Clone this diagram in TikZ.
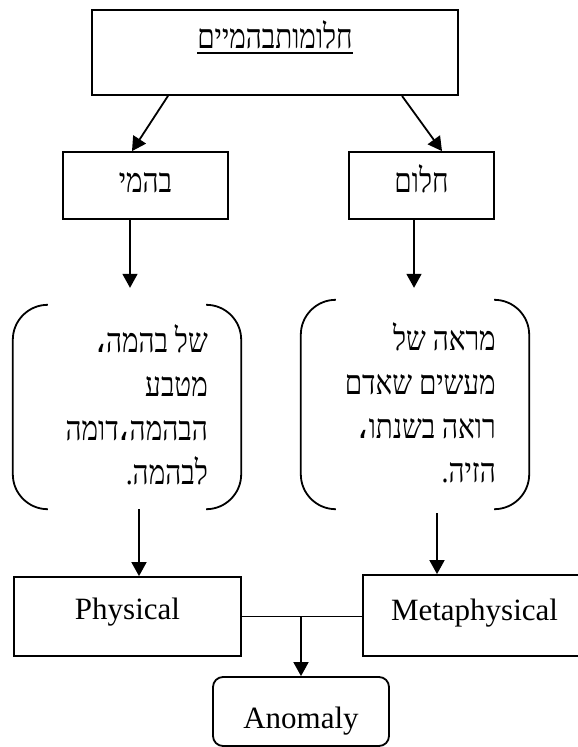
\documentclass[tikz,border=0pt]{standalone}
\usepackage{fontspec}
\setmainfont{Liberation Serif}
\newfontfamily\hebfont[Script=Hebrew,FakeStretch=0.82]{Liberation Serif}
\newfontfamily\arabfont{DejaVu Sans}
\TeXXeTstate=1
\usetikzlibrary{arrows.meta,calc}
\newcommand{\hcomma}{{\arabfont ،}}
\begin{document}
\begin{tikzpicture}[x=1pt,y=-1pt,
  box/.style={draw, line width=1.8pt, inner sep=0pt, font=\fontsize{31}{44}\selectfont},
  heb/.style={font=\fontsize{34}{44}\selectfont\hebfont},
  arr/.style={line width=1.8pt, -{Triangle[width=15pt,length=14pt]}},
  conn/.style={line width=1.8pt},
  brk/.style={draw=none, inner sep=0pt},
  brkline/.style={line width=1.8pt, rounded corners=35pt}]
\useasboundingbox (0,0) rectangle (578,747);

% top box
\node[box, heb, minimum width=366pt, text height=38pt, text depth=47pt] (top) at (275,52.5)
  {\vtop{\hbox{\beginR חלומותבהמיים\endR}\kern4pt\hrule height 1.3pt}};

% second row
\node[box, heb, minimum width=165pt, text height=40pt, text depth=27pt] (bahami) at (145.5,185.5) {\beginR בהמי\endR};
\node[box, heb, minimum width=145pt, text height=40pt, text depth=27pt] (halom) at (421.5,185.5) {\beginR חלום\endR};

% bracket boxes
\node[brk, minimum width=228pt, minimum height=204pt] (bl) at (127,407) {};
\node[brk, minimum width=228pt, minimum height=209pt] (br) at (415,404.5) {};
\draw[brkline] ([xshift=35pt]bl.north west) -- (bl.north west) -- (bl.south west) -- ([xshift=35pt]bl.south west);
\draw[brkline] ([xshift=-35pt]bl.north east) -- (bl.north east) -- (bl.south east) -- ([xshift=-35pt]bl.south east);
\draw[brkline] ([xshift=35pt]br.north west) -- (br.north west) -- (br.south west) -- ([xshift=35pt]br.south west);
\draw[brkline] ([xshift=-35pt]br.north east) -- (br.north east) -- (br.south east) -- ([xshift=-35pt]br.south east);

\node[heb, inner sep=0pt, anchor=base east] (tl) at (208,352)
  {\begin{tabular}[t]{@{}r@{}}\beginR של בהמה\hcomma\endR\\ \beginR מטבע\endR\\ \beginR הבהמה\hcomma דומה\endR\\ \beginR לבהמה.\endR\end{tabular}};
\node[heb, inner sep=0pt, anchor=base east] (tr) at (496,350)
  {\begin{tabular}[t]{@{}r@{}}\beginR מראה של\endR\\ \beginR מעשים שאדם\endR\\ \beginR רואה בשנתו\hcomma\endR\\ \beginR הזיה.\endR\end{tabular}};

% bottom boxes
\node[box, minimum width=227pt, text height=42pt, text depth=37pt] (phys) at (127.5,616.5) {Physical};
\node[box, minimum width=223pt, text height=45pt, text depth=36pt] (meta) at (474.5,615.5) {Metaphysical};
\node[box, rounded corners=10pt, minimum width=176pt, text height=51pt, text depth=18pt] (anom) at (301,711.5) {Anomaly};

% connectors
\draw[arr] ([xshift=-107pt]top.south) -- ([xshift=-13.5pt]bahami.north);
\draw[arr] ([xshift=127pt]top.south) -- ([xshift=20.5pt]halom.north);
\draw[arr, shorten >=17pt] ($(bahami.south)+(-15.5,0)$) -- ($(bahami.south |- bl.north)+(-15.5,0)$);
\draw[arr, shorten >=12pt] ($(halom.south)+(-7.5,0)$) -- ($(halom.south |- br.north)+(-7.5,0)$);
\draw[arr] ($(phys.north |- bl.south)+(11.5,0)$) -- ($(phys.north)+(11.5,0)$);
\draw[arr, shorten <=4pt] ($(meta.north |- br.south)+(-37.5,0)$) -- ($(meta.north)+(-37.5,0)$);
\draw[conn] (phys.east) -- (phys.east -| meta.west);
\draw[arr] (anom.north |- phys.east) -- (anom.north);
\end{tikzpicture}
\end{document}
